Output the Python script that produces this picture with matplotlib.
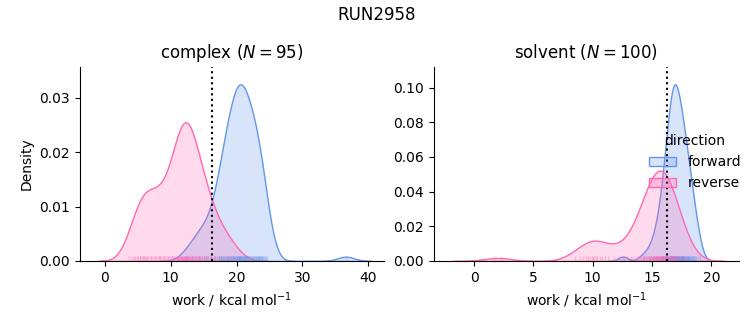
import numpy as np
import matplotlib
matplotlib.use('Agg')
import matplotlib.pyplot as plt
from matplotlib.colors import to_rgba
from matplotlib.patches import Patch

# work values (kcal/mol)
complex_fwd = [12.3, 13.2, 13.8, 14.3, 14.7, 15.0, 15.3, 15.6, 16.1,
               16.6, 16.8, 17.0, 17.3, 17.4,
               17.5, 17.6, 17.7, 17.8, 17.9, 18.0, 18.1, 18.3, 18.4,
               18.5, 18.6, 18.7, 18.8, 18.9, 19.0, 19.1, 19.2, 19.3, 19.4, 19.45,
               19.5, 19.6, 19.65, 19.7, 19.8, 19.9, 20.0, 20.05, 20.1, 20.2, 20.25, 20.3, 20.4, 20.45,
               20.5, 20.55, 20.6, 20.65, 20.7, 20.8, 20.9, 21.0, 21.05, 21.1, 21.2, 21.25, 21.3, 21.4, 21.45,
               21.5, 21.6, 21.7, 21.8, 21.9, 22.0, 22.1, 22.2, 22.3, 22.4,
               22.5, 22.6, 22.7, 22.8, 22.9, 23.0, 23.1, 23.2, 23.3, 23.4, 23.45,
               23.5, 23.6, 23.7, 23.8, 23.9, 24.0, 24.1, 24.25, 24.4, 24.6, 36.6]
complex_rev = [3.6, 4.1, 4.4, 4.6, 4.9, 5.1, 5.3, 5.4,
               5.6, 5.8, 5.9, 6.1, 6.3, 6.4, 6.6, 6.8, 7.0, 7.2, 7.4,
               7.6, 7.8, 8.0, 8.2, 8.4, 8.6, 8.8, 9.0, 9.2, 9.4,
               9.6, 9.8, 10.0, 10.2, 10.35, 10.45,
               10.6, 10.75, 10.9, 11.0, 11.1, 11.2, 11.3, 11.4,
               11.5, 11.55, 11.6, 11.7, 11.75, 11.8, 11.9, 12.0, 12.05, 12.1, 12.2, 12.25, 12.3, 12.4,
               12.5, 12.6, 12.65, 12.7, 12.8, 12.9, 13.0, 13.1, 13.2, 13.3, 13.35, 13.45,
               13.6, 13.75, 13.9, 14.0, 14.1, 14.25, 14.35, 14.45,
               14.6, 14.8, 15.0, 15.2, 15.35, 15.45, 15.6, 15.9, 16.1, 16.4,
               16.7, 17.0, 17.3, 17.7, 18.2, 18.7, 19.2, 20.0]
solvent_fwd = [12.55, 14.2, 14.7, 15.05, 15.15, 15.3, 15.45, 15.6,
               15.7, 15.75, 15.8, 15.85, 15.9, 15.95, 16.0, 16.05, 16.1,
               16.17, 16.2, 16.23, 16.26, 16.29, 16.32, 16.35, 16.38, 16.41, 16.44,
               16.47, 16.5, 16.53, 16.56, 16.59, 16.62, 16.64,
               16.66, 16.68, 16.7, 16.72, 16.74, 16.76, 16.78, 16.8, 16.82, 16.84, 16.86, 16.88,
               16.9, 16.92, 16.94, 16.96, 16.98, 17.0, 17.03, 17.06, 17.09, 17.11, 17.14,
               17.16, 17.19, 17.21, 17.24, 17.26, 17.29, 17.31, 17.34, 17.37, 17.4,
               17.43, 17.46, 17.49, 17.52, 17.55, 17.58, 17.6, 17.62, 17.64,
               17.67, 17.71, 17.75, 17.79, 17.83, 17.87, 17.91, 17.95, 17.99, 18.03, 18.07, 18.11, 18.14,
               18.18, 18.24, 18.3, 18.36, 18.42, 18.48, 18.55, 18.62, 18.72, 18.85, 19.0]
solvent_rev = [1.7, 2.3,
               8.5, 8.9, 9.2, 9.4, 9.6, 9.75, 9.9, 10.0, 10.1, 10.25, 10.4, 10.6, 10.8, 11.0, 11.3,
               11.8, 12.2, 12.6, 12.9, 13.2, 13.4, 13.65,
               13.8, 13.9, 14.0, 14.1, 14.2, 14.27, 14.33, 14.4, 14.45, 14.5, 14.56, 14.62, 14.7,
               14.76, 14.8, 14.85, 14.9, 14.95, 15.0, 15.05, 15.1, 15.15, 15.2, 15.23,
               15.26, 15.3, 15.33, 15.36, 15.4, 15.43, 15.46, 15.5, 15.53, 15.56, 15.6, 15.63, 15.66, 15.7, 15.73,
               15.76, 15.8, 15.83, 15.86, 15.9, 15.93, 15.96, 16.0, 16.03, 16.06, 16.1, 16.13, 16.16, 16.2, 16.23,
               16.27, 16.32, 16.37, 16.42, 16.47, 16.52, 16.57, 16.62, 16.66, 16.7, 16.73,
               16.78, 16.84, 16.9, 16.96, 17.02, 17.08, 17.14, 17.2, 17.35, 17.5, 17.7]

# free energy estimates (dotted lines)
dg_complex = 16.2
dg_solvent = 16.3

run_name = 'RUN2958'
directions = ['forward', 'reverse']
colors = {'forward': '#6495ED', 'reverse': '#FF69B4'}

panels = [('complex', {'forward': complex_fwd, 'reverse': complex_rev}, dg_complex),
          ('solvent', {'forward': solvent_fwd, 'reverse': solvent_rev}, dg_solvent)]

n_total = sum(len(v) for _, d, _ in panels for v in d.values())


def kde(x, gridsize=200, cut=3):
    x = np.asarray(x)
    bw = x.std(ddof=1) * len(x) ** (-1 / 5)
    grid = np.linspace(x.min() - cut * bw, x.max() + cut * bw, gridsize)
    dens = np.exp(-0.5 * ((grid[:, None] - x[None, :]) / bw) ** 2).sum(axis=1)
    dens /= len(x) * bw * np.sqrt(2 * np.pi)
    return grid, dens


fig = plt.figure(figsize=(7.53, 3.25), dpi=100)
axes = [fig.add_axes([0.106, 0.197, 0.404, 0.598]),
        fig.add_axes([0.576, 0.197, 0.405, 0.598])]

for ax, (phase, data, dg) in zip(axes, panels):
    for d in directions:
        w = data[d]
        grid, dens = kde(w)
        dens = dens * len(w) / n_total
        c = colors[d]
        ax.fill_between(grid, 0, dens, facecolor=to_rgba(c, 0.25), edgecolor=c, lw=1)
        ax.vlines(w, 0, 0.025, transform=ax.get_xaxis_transform(), color=c, lw=1, alpha=0.35)
    ax.axvline(dg, color='k', ls=':', lw=1.5)
    ax.margins(y=0.1)
    ax.set_ylim(bottom=0)
    ax.spines['top'].set_visible(False)
    ax.spines['right'].set_visible(False)
    ax.set_xlabel('work / kcal mol$^{-1}$')
    ax.set_title(phase + ' ($N = %d$)' % len(data['forward']))

axes[0].set_xlim(-3.8, 42.4)
axes[1].set_xlim(-3.4, 22.3)
axes[0].set_ylabel('Density')

handles = [Patch(facecolor=to_rgba(colors[d], 0.25), edgecolor=colors[d]) for d in directions]
axes[1].legend(handles, directions, title='direction', frameon=False,
               loc='center right', bbox_to_anchor=(1.049, 0.507))

fig.suptitle(run_name)
fig.savefig('out.png', dpi=100)
